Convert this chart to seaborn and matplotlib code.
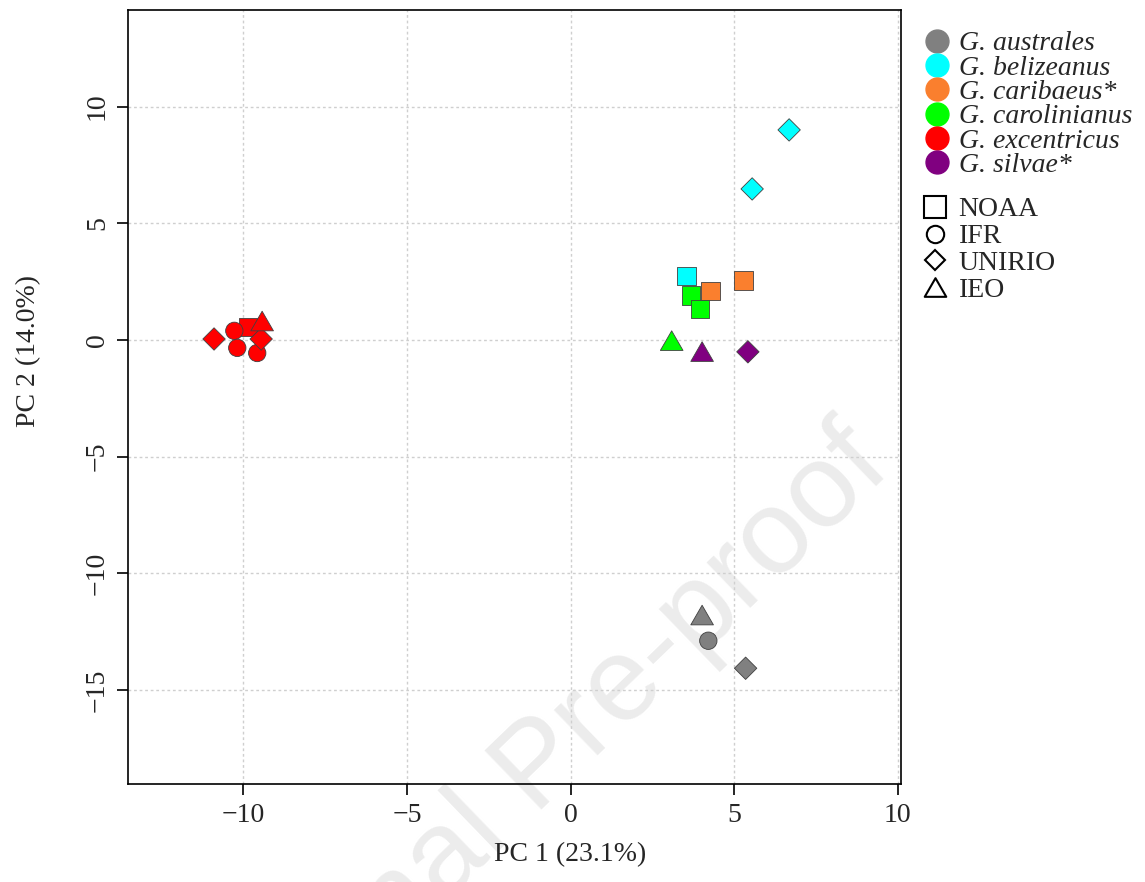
import matplotlib
matplotlib.use("Agg")
import matplotlib.pyplot as plt
from matplotlib.lines import Line2D
from matplotlib.path import Path
import pandas as pd
import seaborn as sns

# PCA scores
species = [
    "G. australes", "G. australes", "G. australes",
    "G. belizeanus", "G. belizeanus", "G. belizeanus",
    "G. caribaeus*", "G. caribaeus*",
    "G. carolinianus", "G. carolinianus", "G. carolinianus",
    "G. excentricus", "G. excentricus", "G. excentricus", "G. excentricus",
    "G. excentricus", "G. excentricus", "G. excentricus",
    "G. silvae*", "G. silvae*",
]
lab = [
    "IEO", "IFR", "UNIRIO",
    "NOAA", "UNIRIO", "UNIRIO",
    "NOAA", "NOAA",
    "NOAA", "NOAA", "IEO",
    "NOAA", "IFR", "IFR", "IFR", "UNIRIO", "UNIRIO", "IEO",
    "IEO", "UNIRIO",
]
pc1 = [4.02, 4.21, 5.35,
       3.55, 5.55, 6.68,
       4.28, 5.28,
       3.68, 3.96, 3.09,
       -9.86, -10.28, -10.19, -9.58, -10.90, -9.46, -9.43,
       4.02, 5.42]
pc2 = [-11.79, -12.89, -14.07,
       2.74, 6.47, 9.00,
       2.10, 2.54,
       1.90, 1.33, -0.03,
       0.56, 0.39, -0.34, -0.56, 0.04, 0.04, 0.81,
       -0.50, -0.51]

species_order = ["G. australes", "G. belizeanus", "G. caribaeus*",
                 "G. carolinianus", "G. excentricus", "G. silvae*"]
species_colors = ["#808080", "#00FFFF", "#FA7F2E", "#00FF00", "#FF0000", "#800080"]
lab_order = ["NOAA", "IFR", "UNIRIO", "IEO"]

df = pd.DataFrame({"species": species, "lab": lab, "PC1": pc1, "PC2": pc2})
palette = dict(zip(species_order, species_colors))

# equilateral triangle, closed so the open legend marker gets all three sides
tri = Path([(0, 0.433), (-0.5, -0.433), (0.5, -0.433), (0, 0.433)], closed=True)
lab_marker = {"NOAA": "s", "IFR": "o", "UNIRIO": "D", "IEO": tri}
lab_size = {"NOAA": 180, "IFR": 156, "UNIRIO": 130, "IEO": 266}

sns.set_style("white")
plt.rcParams["font.family"] = ["Liberation Serif", "DejaVu Serif"]
plt.rcParams["font.size"] = 20

fig = plt.figure(figsize=(11.45, 8.82), dpi=100)
ax = fig.add_axes([0.1118, 0.1111, 0.6751, 0.8776])
ax.set_facecolor("none")

# faint watermark behind the axes
fig.text(0.472, 0.128, "Journal Pre-proof", rotation=44, fontsize=86,
         family="Liberation Sans", color="#ececec", ha="center", va="center",
         zorder=-1)

ax.grid(True, color="#cfcfcf", linestyle=(0, (2, 2)), linewidth=1)
ax.set_axisbelow(True)

for lb in lab_order:
    sub = df[df["lab"] == lb]
    sns.scatterplot(data=sub, x="PC1", y="PC2", hue="species", palette=palette,
                    marker=lab_marker[lb], s=lab_size[lb], edgecolor="#404040",
                    linewidth=0.6, legend=False, ax=ax, zorder=3)

ax.set_xlim(-13.53, 10.1)
ax.set_ylim(-19.03, 14.14)
ax.set_xticks([-10, -5, 0, 5, 10])
ax.set_yticks([-15, -10, -5, 0, 5, 10])
ax.tick_params(axis="both", direction="out", length=8, width=1.2, color="black",
               labelsize=20, bottom=True, left=True)
ax.tick_params(axis="x", pad=6)
ax.tick_params(axis="y", pad=5)
plt.setp(ax.get_yticklabels(), rotation=90, va="center")
for sp in ax.spines.values():
    sp.set_color("black")
    sp.set_linewidth(1.2)

ax.set_xlabel("PC 1 (23.1%)", fontsize=20)
ax.set_ylabel("PC 2 (14.0%)", fontsize=20)
ax.xaxis.set_label_coords(0.572, -0.075)
ax.yaxis.set_label_coords(-0.112, 0.56)

# legends
sp_handles = [Line2D([], [], ls="", marker="o", markersize=16.5,
                     markerfacecolor=c, markeredgecolor=c) for c in species_colors]
leg1 = ax.legend(sp_handles, species_order, loc="upper left",
                 bbox_to_anchor=(923 / 1145, 1 - 31 / 882), bbox_transform=fig.transFigure,
                 frameon=False, borderpad=0, borderaxespad=0, handlelength=1.0,
                 handletextpad=0.3, labelspacing=-0.04, prop={"style": "italic", "size": 20})
ax.add_artist(leg1)

lab_handles = [
    Line2D([], [], ls="", marker="s", markersize=15.5, markerfacecolor="none",
           markeredgecolor="black", markeredgewidth=1.5),
    Line2D([], [], ls="", marker="o", markersize=12.5, markerfacecolor="none",
           markeredgecolor="black", markeredgewidth=1.5),
    Line2D([], [], ls="", marker="D", markersize=10.2, markerfacecolor="none",
           markeredgecolor="black", markeredgewidth=1.5),
    Line2D([], [], ls="", marker=tri, markersize=15.5, markerfacecolor="none",
           markeredgecolor="black", markeredgewidth=1.5),
]
ax.legend(lab_handles, lab_order, loc="upper left",
          bbox_to_anchor=(921 / 1145, 1 - 197 / 882), bbox_transform=fig.transFigure,
          frameon=False, borderpad=0, borderaxespad=0, handlelength=1.0,
          handletextpad=0.35, labelspacing=0.05, prop={"size": 20})

fig.savefig("out.png", dpi=100)
